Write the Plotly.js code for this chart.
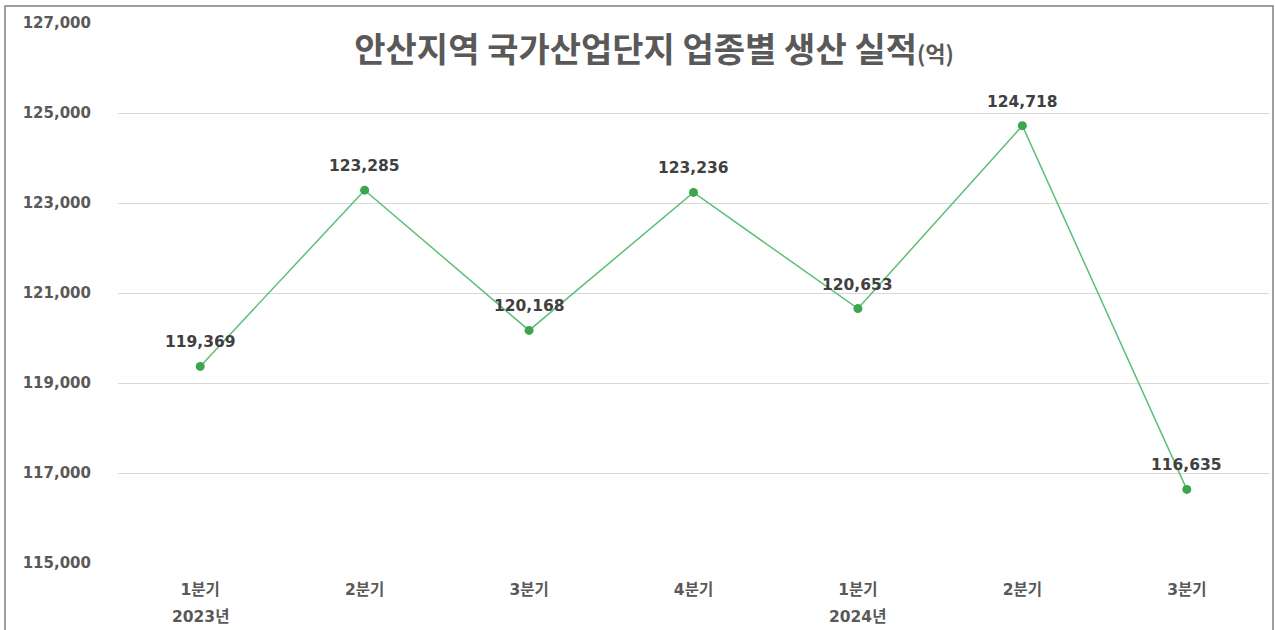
<!DOCTYPE html>
<html>
<head>
<meta charset="utf-8">
<script src="https://cdn.plot.ly/plotly-3.0.1.min.js"></script>
<style>html,body{margin:0;padding:0;background:#fff;}#chart{width:1275px;height:630px;}</style>
</head>
<body>
<div id="chart"></div>
<script>
var quarters = ["1분기", "2분기", "3분기", "4분기", "1분기", "2분기", "3분기"];
var years = ["2023년", "", "", "", "2024년", "", ""];
var values = [119369, 123285, 120168, 123236, 120653, 124718, 116635];
var yTicks = [115000, 117000, 119000, 121000, 123000, 125000, 127000];
var titleMain = "안산지역 국가산업단지 업종별 생산 실적";
var titleUnit = "(억)";

var FONT = "'DejaVu Sans', 'Noto Sans CJK KR', sans-serif";
var TFONT = "'Noto Sans CJK KR', 'Noto Sans', sans-serif";
var xIdx = quarters.map(function(_, i){ return i; });
function fmt(v){ return v.toLocaleString("en-US"); }

var trace = {
  x: xIdx,
  y: values,
  type: "scatter",
  mode: "lines+markers",
  line: {color: "#5cbf78", width: 1.5},
  marker: {color: "#3ba64d", size: 9},
  cliponaxis: false,
  hoverinfo: "none"
};

var annotations = [];
values.forEach(function(v, i){
  annotations.push({
    x: i, y: v, xref: "x", yref: "y",
    text: fmt(v), showarrow: false,
    xanchor: "center", yanchor: "middle", yshift: 24,
    font: {family: FONT, size: 15.5, color: "#404040", weight: "bold"}
  });
});
years.forEach(function(yr, i){
  if (yr) {
    annotations.push({
      x: i, y: 0, xref: "x", yref: "paper",
      text: yr, showarrow: false,
      yanchor: "middle", xanchor: "center",
      yshift: -54,
      font: {family: FONT, size: 15.5, color: "#595959", weight: "bold"}
    });
  }
});

var layout = {
  width: 1275, height: 630,
  margin: {l: 118, r: 6, t: 23, b: 67},
  paper_bgcolor: "#ffffff",
  plot_bgcolor: "#ffffff",
  showlegend: false,
  title: {
    text: titleMain + "<span style='font-size:22px'>" + titleUnit + "</span>",
    xref: "container", yref: "container",
    x: 0.513, y: 0.921, xanchor: "center", yanchor: "middle",
    font: {family: TFONT, size: 34, color: "#595959", weight: "bold"}
  },
  xaxis: {
    tickmode: "array",
    tickvals: xIdx,
    ticktext: quarters,
    range: [-0.5, quarters.length - 0.5],
    showgrid: false, zeroline: false, showline: false,
    ticks: "",
    ticklabelstandoff: 15,
    tickfont: {family: FONT, size: 15.5, color: "#595959", weight: "bold"}
  },
  yaxis: {
    range: [115000, 127000],
    tickmode: "array",
    tickvals: yTicks,
    ticktext: yTicks.map(fmt),
    showgrid: true, gridcolor: "#d9d9d9", gridwidth: 1,
    zeroline: false, showline: false, ticks: "",
    ticklabelstandoff: 26,
    tickfont: {family: FONT, size: 15, color: "#595959", weight: "bold"}
  },
  annotations: annotations,
  shapes: [{
    type: "rect", xref: "paper", yref: "paper",
    x0: (5 - 118) / 1151, x1: (1273 - 118) / 1151,
    y0: -0.3, y1: 1 + (23 - 6) / 540,
    line: {color: "#808080", width: 1.5},
    fillcolor: "rgba(0,0,0,0)",
    layer: "below"
  }]
};

Plotly.newPlot("chart", [trace], layout, {displayModeBar: false, staticPlot: true});
</script>
</body>
</html>
